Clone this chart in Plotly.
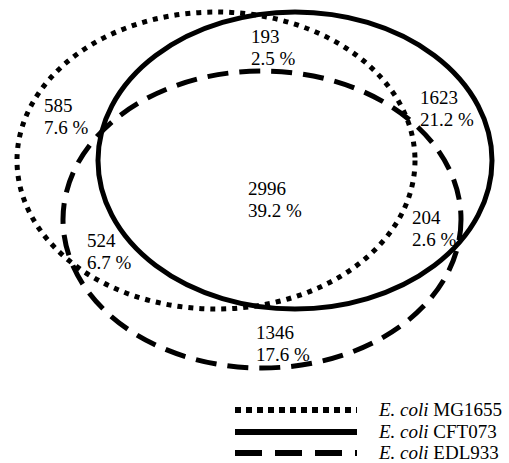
import plotly.graph_objects as go

# Gene counts and shares for each region of the three-genome Venn diagram
region_counts = [193, 585, 1623, 2996, 204, 524, 1346]
region_shares = ["2.5 %", "7.6 %", "21.2 %", "39.2 %", "2.6 %", "6.7 %", "17.6 %"]
# Label anchor (left x, y of first line) in canvas pixels
label_x = [249, 42, 418, 246, 410, 85, 254]
label_y = [36, 105, 97, 188, 217, 240, 332]

strains = ["MG1655", "CFT073", "EDL933"]
# Ellipse geometry per strain: centre and radii (pixels)
centres = [(216, 160.5), (295, 160.5), (262, 219.5)]
radii = [(199, 148.5), (197, 148.5), (199, 148.5)]
dash_styles = ["5px,6px", "solid", "21px,11px"]
legend_dash = ["6px,5px", "solid", "27px,13px"]

W, H = 509, 463
FONT = "'Liberation Serif', 'Times New Roman', Times, serif"

fig = go.Figure()
fig.add_trace(go.Scatter(x=[0, W], y=[0, H], mode="markers",
                         marker=dict(opacity=0), hoverinfo="skip",
                         showlegend=False))

shapes = []
for (cx, cy), (rx, ry), dash in zip(centres, radii, dash_styles):
    shapes.append(dict(type="circle", xref="x", yref="y",
                       x0=cx - rx, x1=cx + rx, y0=cy - ry, y1=cy + ry,
                       line=dict(color="black", width=5, dash=dash)))

annotations = []
line_gap = 22.5
for n, s, x, y in zip(region_counts, region_shares, label_x, label_y):
    for k, txt in enumerate([str(n), s]):
        annotations.append(dict(x=x, y=y + k * line_gap, xref="x", yref="y",
                                text=txt, showarrow=False,
                                xanchor="left", yanchor="middle",
                                font=dict(family=FONT, size=19, color="black")))

# Hand-drawn legend with long line samples
legend_y = [409, 431, 452]
for name, dash, ly in zip(strains, legend_dash, legend_y):
    shapes.append(dict(type="line", xref="x", yref="y",
                       x0=235, x1=357, y0=ly + 1, y1=ly + 1,
                       line=dict(color="black", width=6, dash=dash)))
    annotations.append(dict(x=376, y=ly, xref="x", yref="y",
                            text=f"<i>E. coli</i> {name}", showarrow=False,
                            xanchor="left", yanchor="middle",
                            font=dict(family=FONT, size=19, color="black")))

fig.update_layout(
    width=W, height=H,
    margin=dict(l=0, r=0, t=0, b=0),
    paper_bgcolor="white", plot_bgcolor="white",
    xaxis=dict(range=[0, W], visible=False, fixedrange=True),
    yaxis=dict(range=[H, 0], visible=False, fixedrange=True),
    shapes=shapes, annotations=annotations,
    showlegend=False,
)

fig.write_html("out.html")
